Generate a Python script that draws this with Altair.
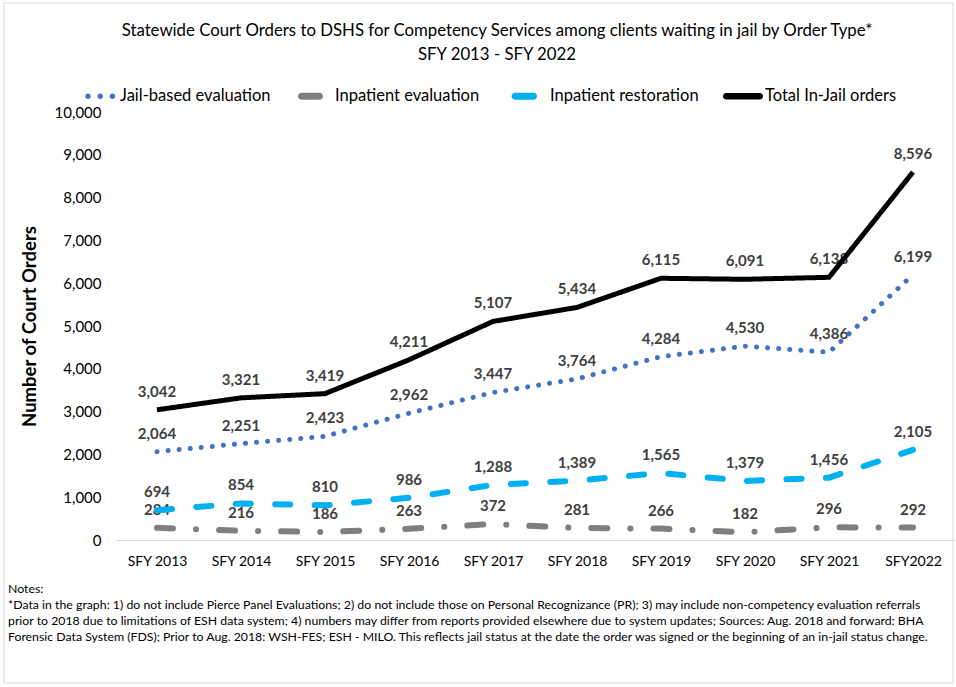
import altair as alt
import pandas as pd

# ---- data -----------------------------------------------------------------
years = ["SFY 2013", "SFY 2014", "SFY 2015", "SFY 2016", "SFY 2017",
         "SFY 2018", "SFY 2019", "SFY 2020", "SFY 2021", "SFY2022"]
series_names = ["Jail-based evaluation", "Inpatient evaluation",
                "Inpatient restoration", "Total In-Jail orders"]
jail_based_eval = [2064, 2251, 2423, 2962, 3447, 3764, 4284, 4530, 4386, 6199]
inpatient_eval = [284, 216, 186, 263, 372, 281, 266, 182, 296, 292]
inpatient_restoration = [694, 854, 810, 986, 1288, 1389, 1565, 1379, 1456, 2105]
total_in_jail = [3042, 3321, 3419, 4211, 5107, 5434, 6115, 6091, 6138, 8596]
y_ticks = [0, 1000, 2000, 3000, 4000, 5000, 6000, 7000, 8000, 9000, 10000]

title_lines = [
    "Statewide Court Orders to DSHS for Competency Services among clients waiting in jail by Order Type*",
    "SFY 2013 - SFY 2022",
]
notes_lines = [
    "Notes:",
    "*Data in the graph: 1) do not include Pierce Panel Evaluations; 2) do not include those on Personal Recognizance (PR); 3) may include non-competency evaluation referrals",
    "prior to 2018 due to limitations of ESH data system; 4) numbers may differ from reports provided elsewhere due to system updates; Sources: Aug. 2018 and forward: BHA",
    "Forensic Data System (FDS); Prior to Aug. 2018: WSH-FES; ESH - MILO. This reflects jail status at the date the order was signed or the beginning of an in-jail status change.",
]

# ---- styling ----------------------------------------------------------------
FONT = "Lato"
colors = ["#4472C4", "#7F7F7F", "#00B0F0", "#000000"]
line_widths = [5, 6, 6, 5]
dashes = [[0.1, 11], [16, 23, 0.1, 23], [15, 24.5], [1, 0]]
caps = ["round", "round", "round", "butt"]

# legend glyphs drawn as custom symbol paths (unit box -1..1)
def circle(cx, r):
    return (f"M{cx - r},0A{r},{r} 0 1,0 {cx + r},0"
            f"A{r},{r} 0 1,0 {cx - r},0Z")

def capsule(left, right, h):
    a, b = left + h, right - h
    return (f"M{a},{-h}L{b},{-h}A{h},{h} 0 0 1 {b},{h}"
            f"L{a},{h}A{h},{h} 0 0 1 {a},{-h}Z")

legend_shapes = [
    circle(-0.5, 0.14) + circle(0.11, 0.14) + circle(0.72, 0.14),
    capsule(-0.75, 0.5, 0.18),
    capsule(-0.82, 0.45, 0.17),
    capsule(-1.0, 1.0, 0.16),
]

rows = []
for name, vals in zip(series_names,
                      [jail_based_eval, inpatient_eval,
                       inpatient_restoration, total_in_jail]):
    for yr, v in zip(years, vals):
        rows.append({"series": name, "year": yr, "value": v})
df = pd.DataFrame(rows)
one_row = pd.DataFrame({"k": [0]})

W, H = 840, 428

x_enc = alt.X("year:O", sort=years,
              scale=alt.Scale(type="point", padding=0.5),
              axis=alt.Axis(title=None, labelAngle=0, labelFontSize=14,
                            labelColor="#000000", labelPadding=14,
                            ticks=False, domainColor="#D9D9D9",
                            domainWidth=1.2))
y_enc = alt.Y("value:Q",
              scale=alt.Scale(domain=[0, 10000], nice=False),
              axis=alt.Axis(title="Number of Court Orders", values=y_ticks,
                            format=",.0f", grid=False, ticks=False,
                            domain=False, labelFontSize=15,
                            labelColor="#000000", labelPadding=14,
                            titleFontSize=18.5, titleFontWeight="bold",
                            titleColor="#000000", titlePadding=15))

base = alt.Chart(df).encode(x=x_enc, y=y_enc)

labels = base.mark_text(
    dy=-18, fontSize=15, fontWeight="bold", color="#404040",
    baseline="middle", align="center"
).encode(text=alt.Text("value:Q", format=",.0f"))

lines = []
for name, c, w, d, cap in zip(series_names, colors, line_widths, dashes, caps):
    lines.append(
        base.transform_filter(alt.datum.series == name).mark_line(
            color=c, strokeWidth=w, strokeDash=d, strokeCap=cap,
            interpolate="linear")
    )

legend = alt.Legend(title=None, orient="none", legendX=-37, legendY=-36,
                    direction="horizontal", columns=4, gridAlign="all",
                    symbolSize=1600, symbolOpacity=1, symbolStrokeWidth=0,
                    labelFontSize=16.5, labelColor="#000000", labelOffset=2,
                    columnPadding=22, padding=0)
legend_layer = base.mark_point(filled=True, opacity=0).encode(
    color=alt.Color("series:N", scale=alt.Scale(domain=series_names,
                                                range=colors),
                    legend=legend),
    shape=alt.Shape("series:N", scale=alt.Scale(domain=series_names,
                                                range=legend_shapes),
                    legend=legend),
)

title_text = alt.Chart(one_row).mark_text(
    text=title_lines, align="center", baseline="middle", fontSize=16.8,
    lineHeight=24, color="#000000"
).encode(x=alt.value(382), y=alt.value(-81))

notes = alt.Chart(one_row).mark_text(
    text=notes_lines, align="left", baseline="top", fontSize=12.3,
    lineHeight=16, color="#000000"
).encode(x=alt.value(-107), y=alt.value(471))

frame = alt.Chart(one_row).mark_rect(
    fill=None, stroke="#D9D9D9", strokeWidth=1
).encode(x=alt.value(-111), x2=alt.value(838),
         y=alt.value(-109), y2=alt.value(571))

chart = alt.layer(
    frame, legend_layer, labels, *lines, title_text, notes
).properties(
    width=W, height=H,
    autosize=alt.AutoSizeParams(type="none"),
    padding={"left": 115, "top": 112, "right": 1, "bottom": 147},
).configure(font=FONT).configure_view(stroke=None)

chart.save("out.html", embed_options={"renderer": "svg", "actions": False})
